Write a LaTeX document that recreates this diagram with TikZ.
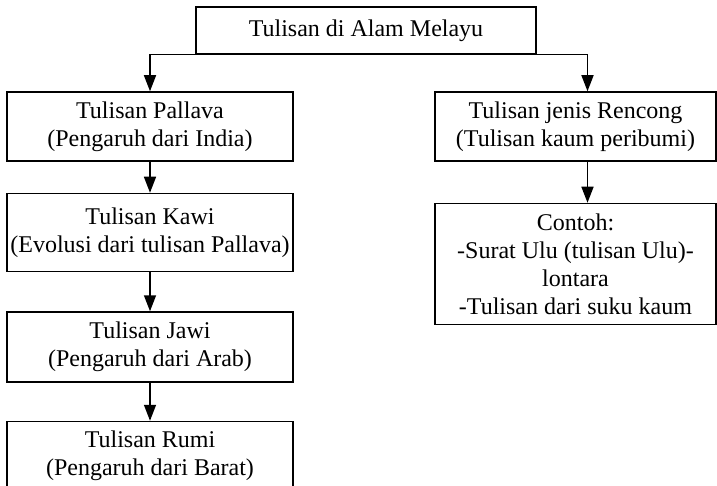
\documentclass[tikz,border=0pt]{standalone}
\usepackage{fontspec}
\setmainfont{Liberation Serif}
\usetikzlibrary{arrows.meta,positioning}

\begin{document}
\begin{tikzpicture}[x=1pt,y=-1pt,
  box/.style={draw,line width=1.5pt,inner sep=0pt,align=center,
    font=\fontsize{24}{28}\selectfont},
  arr/.style={line width=1.5pt,-{Triangle[length=16pt,width=12pt]}}]
\useasboundingbox (0,0) rectangle (717,486);
\node[box,minimum width=340pt,minimum height=47pt](top)at(366,30.5){Tulisan di Alam Melayu};
\node[box,minimum width=286pt,minimum height=69pt](pallava)at(150,126.5){Tulisan Pallava\\(Pengaruh dari India)};
\node[box,minimum width=286pt,minimum height=78pt](kawi)[below=31pt of pallava]{Tulisan Kawi\\(Evolusi dari tulisan Pallava)};
\node[box,minimum width=286pt,minimum height=70pt](jawi)[below=39pt of kawi]{Tulisan Jawi\\(Pengaruh dari Arab)};
\node[box,minimum width=286pt,minimum height=68pt](rumi)[below=38pt of jawi]{Tulisan Rumi\\(Pengaruh dari Barat)};
\node[box,minimum width=281pt,minimum height=69pt](rencong)at(575.5,126.5){Tulisan jenis Rencong\\(Tulisan kaum peribumi)};
\node[box,minimum width=281pt,minimum height=121pt](contoh)[below=41pt of rencong]{Contoh:\\-Surat Ulu (tulisan Ulu)-\\lontara\\-Tulisan dari suku kaum};
\coordinate[right=12pt of rencong.north](rin);
\coordinate[right=12pt of rencong.south](rout);
\draw[arr](top.south west)-|(pallava.north);
\draw[arr](top.south east)-|(rin);
\draw[arr](pallava)--(kawi);
\draw[arr](kawi)--(jawi);
\draw[arr](jawi)--(rumi);
\draw[arr](rout)--(rout|-contoh.north);
\end{tikzpicture}
\end{document}
